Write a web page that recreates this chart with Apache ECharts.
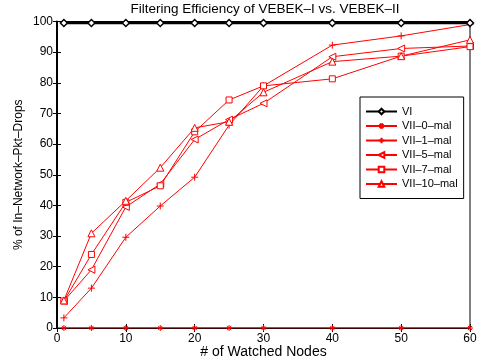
<!DOCTYPE html>
<html><head><meta charset="utf-8">
<script src="https://cdn.jsdelivr.net/npm/echarts@6/dist/echarts.min.js"></script>
<style>html,body{margin:0;padding:0;background:#fff}#c{width:479px;height:360px}</style>
</head><body><div id="c"></div>
<script>
const nodes = [1, 5, 10, 15, 20, 25, 30, 40, 50, 60];
const vi     = [99.5, 99.5, 99.5, 99.5, 99.5, 99.5, 99.5, 99.5, 99.5, 99.5];
const vii0   = [0, 0, 0, 0, 0, 0, 0, 0, 0, 0];
const vii1   = [3.3, 13, 29.6, 39.8, 49.2, 66.2, 79, 92.3, 95.3, 99];
const vii5   = [8.8, 19, 39.5, 47, 61.5, 68, 73.3, 88.5, 91.2, 92];
const vii7   = [8.8, 24, 41, 46.4, 64, 74.4, 79, 81.3, 88.7, 91.8];
const vii10  = [9, 30.9, 41.5, 52.3, 65.3, 67.3, 76.9, 86.9, 88.7, 94];
const names = ['VI', 'VII–0–mal', 'VII–1–mal', 'VII–5–mal', 'VII–7–mal', 'VII–10–mal'];
const yTicks = [0,10,20,30,40,50,60,70,80,90,100];

const pair = arr => nodes.map((x, i) => [x, arr[i]]);
const FONT = 'Liberation Sans, Arial, sans-serif';
const RED = '#ff0000';
const PLUS = 'path://M5,0 L5,10 M0,5 L10,5';
const STAR = 'path://M5,0 L5,10 M0,5 L10,5 M1.5,1.5 L8.5,8.5 M8.5,1.5 L1.5,8.5';
const LTRI = 'path://M0,5 L10,0 L10,10 Z';

function red(name, data, symbol, size, fill) {
  return {
    name, type: 'line', data: pair(data), symbol, symbolSize: size,
    lineStyle: { color: RED, width: 1 },
    itemStyle: { color: fill, borderColor: RED, borderWidth: 1 },
    emphasis: { disabled: true }, animation: false, z: 3
  };
}

const chart = echarts.init(document.getElementById('c'), null, { renderer: 'canvas' });
chart.setOption({
  animation: false,
  title: { text: 'Filtering Efficiency of VEBEK–I vs. VEBEK–II', left: 265, textAlign: 'center', top: 2, padding: 0,
    textStyle: { fontFamily: FONT, fontSize: 13.5, fontWeight: 'normal', color: '#000' } },
  grid: { left: 57, right: 9, top: 21.5, bottom: 32, show: true, borderColor: '#000', borderWidth: 1,
    outerBoundsMode: 'none', containLabel: false },
  legend: {
    orient: 'vertical', left: 360, top: 97, width: 108,
    data: names, backgroundColor: '#fff', borderColor: '#000', borderWidth: 1,
    padding: [9, 6, 9, 5], itemGap: 3.5, itemWidth: 31, itemHeight: 7,
    textStyle: { fontFamily: FONT, fontSize: 11, color: '#000' }
  },
  xAxis: [{
    type: 'value', min: 0, max: 60, interval: 10,
    name: '# of Watched Nodes', nameLocation: 'middle', nameGap: 17, nameMoveOverlap: false,
    nameTextStyle: { fontFamily: FONT, fontSize: 14, color: '#000' },
    axisLine: { lineStyle: { color: '#000', width: 1 } },
    axisTick: { inside: true, length: 4, lineStyle: { color: '#000' } },
    axisLabel: { fontFamily: FONT, fontSize: 12, color: '#000', margin: 5 },
    splitLine: { show: false }
  }, {
    type: 'value', min: 0, max: 60, interval: 10, position: 'top',
    axisLine: { lineStyle: { color: '#000' } },
    axisTick: { inside: true, length: 4, lineStyle: { color: '#000' } },
    axisLabel: { show: false }, splitLine: { show: false }
  }],
  yAxis: [{
    type: 'value', min: 0, max: 100, interval: 10,
    name: '% of In–Network–Pkt–Drops', nameLocation: 'middle', nameGap: 32, nameMoveOverlap: false,
    nameTextStyle: { fontFamily: FONT, fontSize: 12, color: '#000' },
    axisLine: { lineStyle: { color: '#000', width: 2 } },
    axisTick: { inside: true, length: 4, lineStyle: { color: '#000' } },
    axisLabel: { fontFamily: FONT, fontSize: 12, color: '#000', margin: 4,
      formatter: v => yTicks.includes(v) ? String(v) : '' },
    splitLine: { show: false }
  }, {
    type: 'value', min: 0, max: 100, interval: 10, position: 'right',
    axisLine: { show: true, lineStyle: { color: '#000' } },
    axisTick: { show: true, inside: true, length: 4, lineStyle: { color: '#000' } },
    axisLabel: { show: false }, splitLine: { show: false }
  }],
  series: [
    { name: names[0], type: 'line', data: pair(vi), symbol: 'diamond', symbolSize: 7,
      lineStyle: { color: '#000', width: 2.5 },
      itemStyle: { color: '#fff', borderColor: '#000', borderWidth: 1.5 },
      emphasis: { disabled: true }, z: 4 },
    red(names[1], vii0, STAR, 6, RED),
    red(names[2], vii1, PLUS, 7, RED),
    red(names[3], vii5, LTRI, 7, '#fff'),
    red(names[4], vii7, 'rect', 6, '#fff'),
    red(names[5], vii10, 'triangle', 7, '#fff')
  ]
});
</script></body></html>
